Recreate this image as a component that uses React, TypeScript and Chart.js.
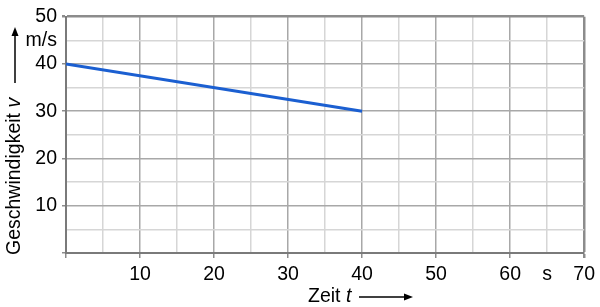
import React, { useEffect, useRef } from "react";
import { Chart, registerables } from "chart.js";

Chart.register(...registerables);

const timeValues = [0, 40];
const speedValues = [40, 30];
const xMax = 70;
const yMax = 50;
const xUnitTick = 65;
const yUnitTick = 45;
const xUnitLabel = "s";
const yUnitLabel = "m/s";
const xTitle = "Zeit ";
const xTitleVar = "t";
const yTitle = "Geschwindigkeit ";
const yTitleVar = "v";

const FONT = '"Liberation Sans", Arial, sans-serif';
const FS = 19.5;

function arrow(ctx: CanvasRenderingContext2D, x1: number, y1: number, x2: number, y2: number) {
  ctx.beginPath();
  ctx.moveTo(x1, y1);
  ctx.lineTo(x2 - 6, y2);
  ctx.lineWidth = 1.5;
  ctx.strokeStyle = "#000";
  ctx.stroke();
  ctx.beginPath();
  ctx.moveTo(x2, y2);
  ctx.lineTo(x2 - 9, y2 - 3.5);
  ctx.lineTo(x2 - 9, y2 + 3.5);
  ctx.closePath();
  ctx.fillStyle = "#000";
  ctx.fill();
}

const titlePlugin = {
  id: "axisTitles",
  afterDraw(chart: any) {
    const ctx: CanvasRenderingContext2D = chart.ctx;
    ctx.save();
    ctx.fillStyle = "#000";
    ctx.textBaseline = "middle";
    ctx.textAlign = "left";
    // x title
    ctx.font = `${FS}px ${FONT}`;
    const xs = 308;
    const xy = 297;
    ctx.fillText(xTitle, xs, xy);
    const w = ctx.measureText(xTitle).width;
    ctx.font = `italic ${FS}px ${FONT}`;
    ctx.fillText(xTitleVar, xs + w, xy);
    arrow(ctx, 359, xy, 413, xy);
    // y title
    ctx.translate(15, 255);
    ctx.rotate(-Math.PI / 2);
    ctx.font = `${FS}px ${FONT}`;
    ctx.fillText(yTitle, 0, 0);
    const wy = ctx.measureText(yTitle).width;
    ctx.font = `italic ${FS}px ${FONT}`;
    ctx.fillText(yTitleVar, wy, 0);
    arrow(ctx, 172, 0, 228, 0);
    ctx.restore();
  },
};

const frameColor = "#8c8c8c";

export default function App() {
  const ref = useRef<HTMLCanvasElement>(null);
  useEffect(() => {
    document.body.style.margin = "0";
    const chart = new Chart(ref.current!, {
      type: "line",
      data: {
        datasets: [
          {
            data: timeValues.map((t, i) => ({ x: t, y: speedValues[i] })),
            borderColor: "#1b5fd1",
            borderWidth: 3,
            pointRadius: 0,
            fill: false,
          },
        ],
      },
      plugins: [titlePlugin],
      options: {
        animation: false,
        responsive: false,
        layout: { padding: { top: 14, right: 15, left: 0, bottom: 0 } },
        plugins: { legend: { display: false }, tooltip: { enabled: false } },
        scales: {
          x: {
            type: "linear",
            min: 0,
            max: xMax,
            afterFit: (s: any) => {
              s.height = 54;
            },
            ticks: {
              stepSize: 5,
              autoSkip: false,
              maxRotation: 0,
              padding: 5,
              color: "#000",
              font: { family: FONT, size: FS },
              callback: (v: any) => {
                const n = Number(v);
                if (n === xUnitTick) return xUnitLabel;
                if (n > 0 && n % 10 === 0) return String(n);
                return "";
              },
            },
            border: { color: "#7a7a7a", width: 2 },
            grid: {
              color: (c: any) => (c.tick.value === xMax ? frameColor : c.tick.value % 10 === 0 ? "#a8a8a8" : "#d6d6d6"),
              lineWidth: (c: any) => (c.tick.value === xMax ? 2.5 : 1.5),
              tickColor: (c: any) => (c.tick && c.tick.value % 10 === 0 ? "#8c8c8c" : "rgba(0,0,0,0)"),
              tickLength: 5,
            },
          },
          y: {
            type: "linear",
            min: 0,
            max: yMax,
            afterFit: (s: any) => {
              s.width = 66;
            },
            ticks: {
              stepSize: 5,
              autoSkip: false,
              padding: 5,
              color: "#000",
              font: { family: FONT, size: FS },
              callback: (v: any) => {
                const n = Number(v);
                if (n === yUnitTick) return yUnitLabel;
                if (n > 0 && n % 10 === 0) return String(n);
                return "";
              },
            },
            border: { color: "#7a7a7a", width: 2 },
            grid: {
              color: (c: any) => (c.tick.value === yMax ? frameColor : c.tick.value % 10 === 0 ? "#a8a8a8" : "#d6d6d6"),
              lineWidth: (c: any) => (c.tick.value === yMax ? 2.5 : 1.5),
              tickColor: (c: any) => (c.tick && c.tick.value % 10 === 0 ? "#8c8c8c" : "rgba(0,0,0,0)"),
              tickLength: 4,
            },
          },
        },
      },
    });
    return () => chart.destroy();
  }, []);
  return <canvas ref={ref} width={600} height={307} style={{ display: "block" }} />;
}
